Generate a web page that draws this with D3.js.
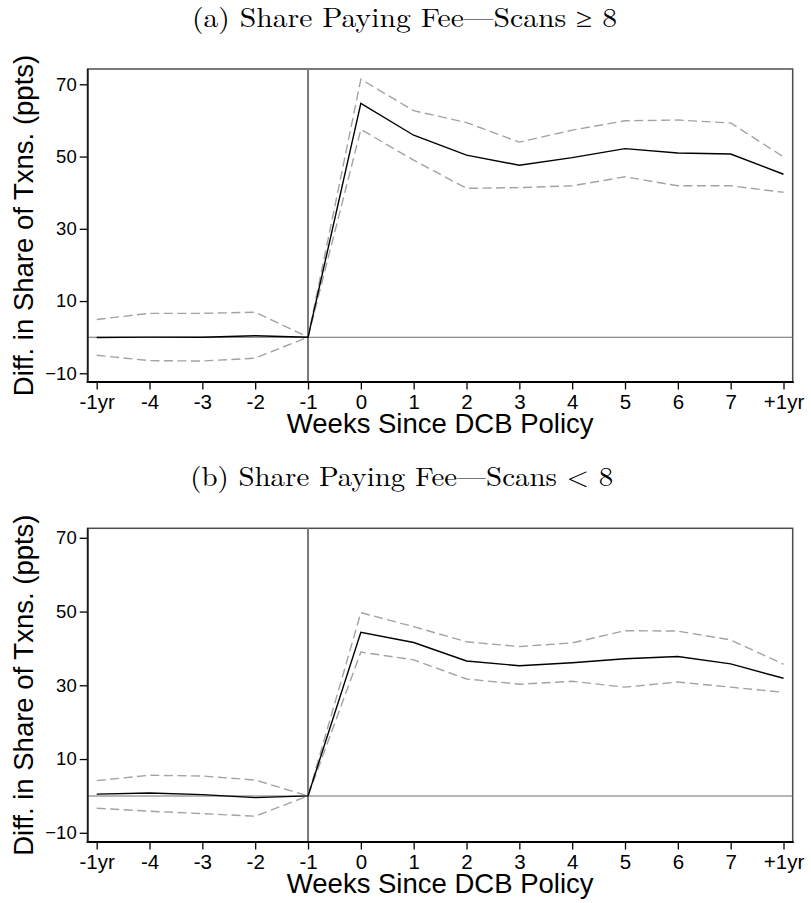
<!DOCTYPE html>
<html>
<head>
<meta charset="utf-8">
<script src="https://cdn.jsdelivr.net/npm/d3@7"></script>
<style>
  body { margin: 0; background: #fff; }
  svg { display: block; }
  .tick text { font-family: "Liberation Sans", Arial, sans-serif; fill: #000; }
</style>
</head>
<body>
<div id="chart"></div>
<script>
// weeks relative to the policy (event-study bins)
var weekLabels = ["-1yr", "-4", "-3", "-2", "-1", "0", "1", "2", "3", "4", "5", "6", "7", "+1yr"];
var yTicks = [-10, 10, 30, 50, 70];

// (a) scans >= 8
var aEst = [-0.1, 0.0, 0.0, 0.4, 0, 64.7, 55.9, 50.4, 47.6, 49.7, 52.2, 51.0, 50.7, 45.1];
var aHi  = [4.9, 6.6, 6.6, 6.9, 0, 71.4, 62.7, 59.4, 54.0, 57.3, 59.9, 60.1, 59.3, 49.9];
var aLo  = [-5.0, -6.5, -6.6, -5.8, 0, 57.5, 49.0, 41.2, 41.4, 41.9, 44.4, 41.9, 41.9, 40.1];

// (b) scans < 8
var bEst = [0.5, 0.8, 0.35, -0.45, 0, 44.4, 41.6, 36.6, 35.3, 36.1, 37.2, 37.8, 35.8, 31.9];
var bHi  = [4.15, 5.6, 5.4, 4.3, 0, 49.7, 45.9, 41.8, 40.5, 41.5, 44.8, 44.7, 42.3, 35.7];
var bLo  = [-3.35, -4.15, -4.8, -5.5, 0, 39.0, 36.9, 31.7, 30.3, 31.1, 29.5, 30.9, 29.5, 28.1];

var W = 811, H = 903;
var svg = d3.select("#chart").append("svg")
    .attr("width", W)
    .attr("height", H);

var sans = "'Liberation Sans', Arial, sans-serif";
var serif = "'Latin Modern Roman', 'CMU Serif', 'Liberation Serif', 'Times New Roman', serif";

EventPanel = function(_cfg){
    this.cfg = _cfg;
    this.initVis();
};

EventPanel.prototype.initVis = function(){
    var vis = this, c = vis.cfg;

    vis.left = 87.7;
    vis.right = 792.7;
    vis.top = c.top;
    vis.bottom = c.bottom;

    vis.x = d3.scaleLinear()
        .domain([0, weekLabels.length - 1])
        .range([96.7, 783.5]);

    vis.y = d3.scaleLinear()
        .domain([-10, 70])
        .range([c.yMin, c.yMax]);

    vis.g = svg.append("g");

    // title
    vis.g.append("text")
        .attr("x", c.titleX)
        .attr("y", c.top - 42)
        .attr("text-anchor", "middle")
        .attr("textLength", c.titleW)
        .attr("lengthAdjust", "spacingAndGlyphs")
        .style("font-family", serif)
        .style("font-size", "27px")
        .text(c.title);

    vis.drawFrame();
    vis.drawLines();
    vis.drawAxes();
};

EventPanel.prototype.drawFrame = function(){
    var vis = this;

    vis.g.append("rect")
        .attr("x", vis.left)
        .attr("y", vis.top)
        .attr("width", vis.right - vis.left)
        .attr("height", vis.bottom - vis.top)
        .attr("fill", "none")
        .attr("stroke", "#4d4d4d")
        .attr("stroke-width", 1.5);

    // reference lines
    vis.g.append("line")
        .attr("x1", vis.left).attr("x2", vis.right)
        .attr("y1", vis.y(0)).attr("y2", vis.y(0))
        .attr("stroke", "#6e6e6e")
        .attr("stroke-width", 1.1);

    vis.g.append("line")
        .attr("x1", vis.x(4)).attr("x2", vis.x(4))
        .attr("y1", vis.top).attr("y2", vis.bottom)
        .attr("stroke", "#7a7a7a")
        .attr("stroke-width", 2);
};

EventPanel.prototype.drawLines = function(){
    var vis = this, c = vis.cfg;

    var line = d3.line()
        .x(function(d, i){ return vis.x(i); })
        .y(function(d){ return vis.y(d); });

    [c.hi, c.lo].forEach(function(s){
        vis.g.append("path")
            .datum(s)
            .attr("d", line)
            .attr("fill", "none")
            .attr("stroke", "#a3a3a3")
            .attr("stroke-width", 1.4)
            .attr("stroke-dasharray", "9,4.5");
    });

    vis.g.append("path")
        .datum(c.est)
        .attr("d", line)
        .attr("fill", "none")
        .attr("stroke", "#000")
        .attr("stroke-width", 1.4);
};

EventPanel.prototype.drawAxes = function(){
    var vis = this;

    var xAxis = d3.axisBottom(vis.x)
        .tickValues(d3.range(weekLabels.length))
        .tickFormat(function(i){ return weekLabels[i]; })
        .tickSize(7.5)
        .tickPadding(5);

    var gx = vis.g.append("g")
        .attr("transform", "translate(0," + vis.bottom + ")")
        .call(xAxis);
    gx.select(".domain").remove();
    gx.selectAll(".tick line").attr("stroke", "#000").attr("stroke-width", 1.3);
    gx.selectAll(".tick text").style("font-size", "20.5px");

    gx.append("line")
        .attr("x1", vis.left - 1).attr("x2", vis.right + 1)
        .attr("stroke", "#000").attr("stroke-width", 2);

    var yAxis = d3.axisLeft(vis.y)
        .tickValues(yTicks)
        .tickSize(8)
        .tickPadding(3);

    var gy = vis.g.append("g")
        .attr("transform", "translate(" + vis.left + ",0)")
        .call(yAxis);
    gy.select(".domain").remove();
    gy.selectAll(".tick line").attr("stroke", "#000").attr("stroke-width", 1.3);
    gy.selectAll(".tick text").style("font-size", "18.5px");

    gy.append("line")
        .attr("y1", vis.top).attr("y2", vis.bottom + 1)
        .attr("stroke", "#1a1a1a").attr("stroke-width", 1.8);

    // axis titles
    vis.g.append("text")
        .attr("x", (vis.left + vis.right) / 2)
        .attr("y", vis.bottom + 51)
        .attr("text-anchor", "middle")
        .style("font-family", sans)
        .style("font-size", "27.5px")
        .text("Weeks Since DCB Policy");

    vis.g.append("text")
        .attr("transform", "translate(32.5," + ((vis.top + vis.bottom) / 2) + ") rotate(-90)")
        .attr("text-anchor", "middle")
        .style("font-family", sans)
        .style("font-size", "27.5px")
        .text("Diff. in Share of Txns. (ppts)");
};

new EventPanel({
    title: "(a) Share Paying Fee\u2014Scans \u2265 8",
    titleX: 404.5, titleW: 425,
    top: 69, bottom: 382,
    yMin: 373.3, yMax: 84.3,
    est: aEst, hi: aHi, lo: aLo
});

new EventPanel({
    title: "(b) Share Paying Fee\u2014Scans < 8",
    titleX: 401.7, titleW: 423,
    top: 528.3, bottom: 842,
    yMin: 832.8, yMax: 537.8,
    est: bEst, hi: bHi, lo: bLo
});
</script>
</body>
</html>
